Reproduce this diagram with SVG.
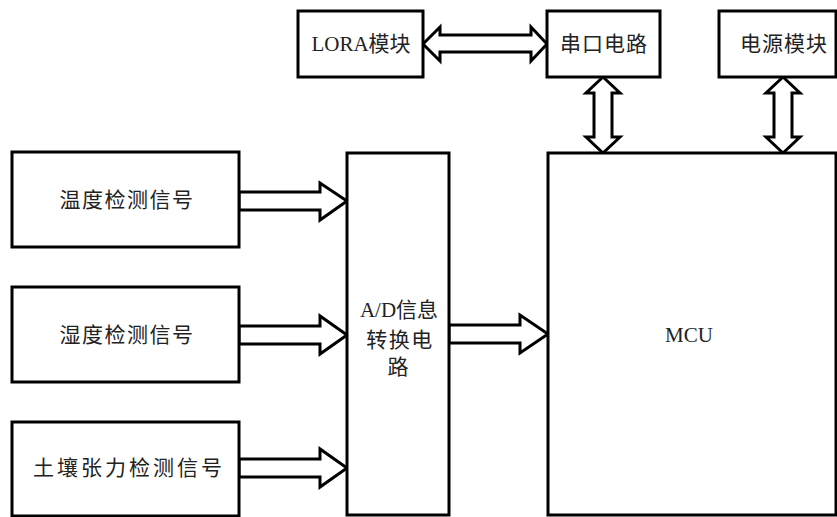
<svg xmlns="http://www.w3.org/2000/svg" width="837" height="517" viewBox="0 0 837 517">
<style>
.box{fill:#fff;stroke:#000;stroke-width:3}
.arr{fill:#fff;stroke:#000;stroke-width:3;stroke-linejoin:miter}
text{font-family:"Liberation Serif","Noto Sans CJK SC",serif;font-size:21px;fill:#222;text-anchor:middle;dominant-baseline:central}
</style>
<rect width="837" height="517" fill="#fff"/>
<g id="connectors">
<polygon class="arr" points="423,44 440,27 440,35 531,35 531,27 547,44 531,61 531,52 440,52 440,61"/>
<polygon class="arr" points="603,77 620,93 612,93 612,137 620,137 603,153 586,137 594,137 594,93 586,93"/>
<polygon class="arr" points="783,77 800,93 792,93 792,137 800,137 783,153 766,137 774,137 774,93 766,93"/>
<polygon class="arr" points="239,192 320,192 320,183 347,201 320,220 320,210 239,210"/>
<polygon class="arr" points="239,326 320,326 320,316 347,335 320,354 320,344 239,344"/>
<polygon class="arr" points="239,459 320,459 320,449 347,468 320,487 320,477 239,477"/>
<polygon class="arr" points="449,325 520,325 520,315 548,334 520,353 520,343 449,343"/>
</g>
<g id="lora"><rect class="box" x="298" y="11" width="125" height="66"/><text x="361" y="44">LORA模块</text></g>
<g id="serial"><rect class="box" x="547" y="11" width="113" height="66"/><text x="604" y="44" letter-spacing="1">串口电路</text></g>
<g id="power"><rect class="box" x="719" y="11" width="117" height="66"/><text x="784" y="44" letter-spacing="1">电源模块</text></g>
<g id="temp"><rect class="box" x="12" y="152" width="227" height="95"/><text x="127" y="200" letter-spacing="1.5">温度检测信号</text></g>
<g id="humid"><rect class="box" x="12" y="287" width="227" height="95"/><text x="127" y="335" letter-spacing="1.5">湿度检测信号</text></g>
<g id="soil"><rect class="box" x="12" y="422" width="227" height="94"/><text x="129" y="468" letter-spacing="3">土壤张力检测信号</text></g>
<g id="ad"><rect class="box" x="347" y="153" width="102" height="362"/>
<text x="399" y="310">A/D信息</text>
<text x="400" y="340" letter-spacing="1.5">转换电</text>
<text x="398" y="367">路</text></g>
<g id="mcu"><rect class="box" x="548" y="153" width="288" height="362"/><text x="689" y="335">MCU</text></g>
</svg>
